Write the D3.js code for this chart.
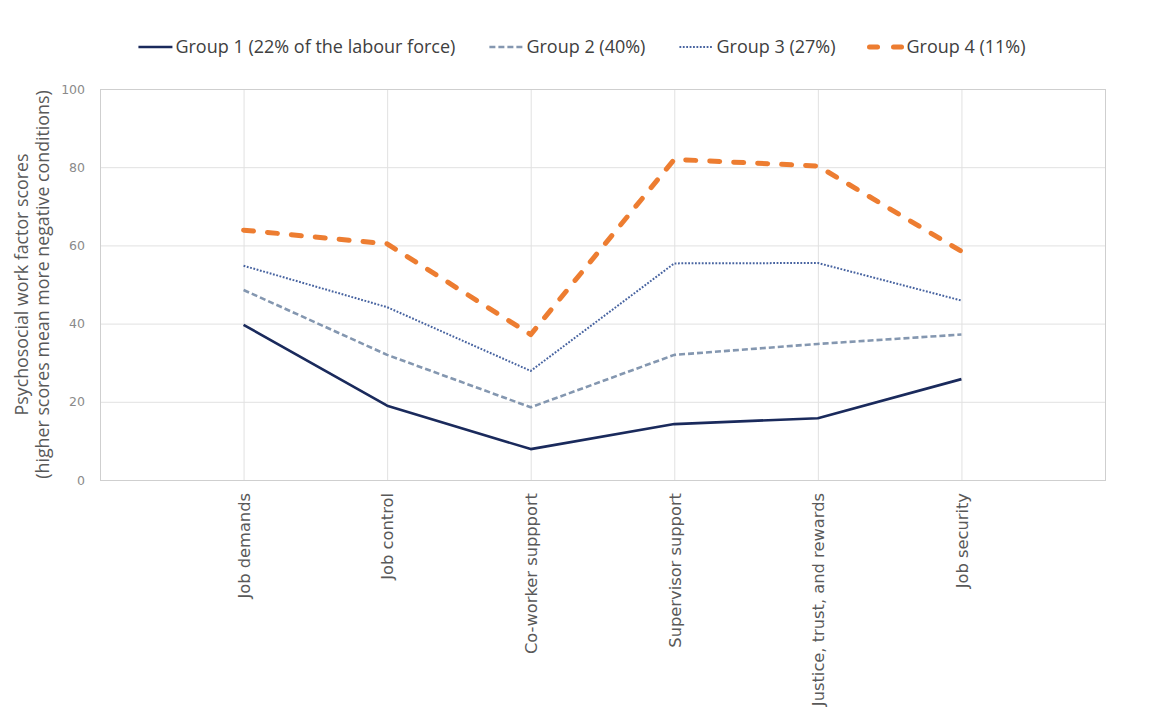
<!DOCTYPE html>
<html>
<head>
<meta charset="utf-8">
<script src="https://cdn.jsdelivr.net/npm/d3@7"></script>
<style>
  body { margin: 0; background: #fff; }
  svg { display: block; }
</style>
</head>
<body>
<div id="chart"></div>
<script>
// data
const categories = ["Job demands", "Job control", "Co-worker suppport", "Supervisor support", "Justice, trust, and rewards", "Job security"];
const seriesNames = ["Group 1 (22% of the labour force)", "Group 2 (40%)", "Group 3 (27%)", "Group 4 (11%)"];
const group1 = [39.7, 19.0, 7.9, 14.3, 15.8, 25.8];
const group2 = [48.6, 32.0, 18.6, 32.0, 34.8, 37.2];
const group3 = [54.8, 44.2, 27.9, 55.4, 55.5, 45.9];
const group4 = [63.9, 60.4, 37.2, 82.0, 80.3, 58.5];
const yTicks = [0, 20, 40, 60, 80, 100];

const W = 1170, H = 719;
const margin = {top: 89, right: 65, bottom: 239, left: 100};
const width = W - margin.left - margin.right,
      height = H - margin.top - margin.bottom;

const styles = [
  {color: "#1a2a5c", width: 2.6, dash: null, cap: "butt"},
  {color: "#8497b0", width: 2.6, dash: "6 3", cap: "butt"},
  {color: "#4763a0", width: 2, dash: "1.8 1.6", cap: "butt"},
  {color: "#ed7d31", width: 5, dash: "10 14", cap: "round"}
];

const svg = d3.select("#chart").append("svg")
    .attr("width", W)
    .attr("height", H);

const g = svg.append("g").attr("transform", `translate(${margin.left},${margin.top})`);

const x = d3.scalePoint().domain(categories).range([0, width]).padding(1);
const y = d3.scaleLinear().domain([0, 100]).range([height, 0]);

// gridlines
g.append("g")
  .selectAll("line")
  .data(yTicks)
  .join("line")
    .attr("x1", 0).attr("x2", width)
    .attr("y1", d => y(d) + 0.5).attr("y2", d => y(d) + 0.5)
    .attr("stroke", "#e1e1e1");

g.append("g")
  .selectAll("line")
  .data(categories)
  .join("line")
    .attr("x1", d => x(d) + 0.5).attr("x2", d => x(d) + 0.5)
    .attr("y1", 0).attr("y2", height)
    .attr("stroke", "#e1e1e1");

// plot border
g.append("rect")
  .attr("x", 0.5).attr("y", 0.5)
  .attr("width", width).attr("height", height)
  .attr("fill", "none")
  .attr("stroke", "#cfcfcf");

// y axis labels
const yAxis = g.append("g")
  .call(d3.axisLeft(y).tickValues(yTicks).tickSize(0).tickPadding(15));
yAxis.select(".domain").remove();
yAxis.selectAll("text")
  .style("font-family", "'DejaVu Sans', sans-serif")
  .style("font-size", "12.5px")
  .style("fill", "#8a8a8a");

// x axis labels
const xAxis = g.append("g")
  .attr("transform", `translate(0,${height})`)
  .call(d3.axisBottom(x).tickSize(0));
xAxis.select(".domain").remove();
xAxis.selectAll("text")
  .attr("transform", "rotate(-90)")
  .attr("x", -13)
  .attr("y", 0)
  .attr("dy", "0.35em")
  .style("text-anchor", "end")
  .style("font-family", "'DejaVu Sans', sans-serif")
  .style("font-size", "16.3px")
  .style("fill", "#595959");

// y title
const yTitle = svg.append("text")
  .attr("transform", `translate(28,${margin.top + height / 2}) rotate(-90)`)
  .style("text-anchor", "middle")
  .style("font-family", "'Open Sans', sans-serif")
  .style("font-size", "17.8px")
  .style("fill", "#595959");
yTitle.append("tspan").attr("x", 0).attr("y", 0).text("Psychosocial work factor scores");
yTitle.append("tspan").attr("x", 0).attr("y", 21).text("(higher scores mean more negative conditions)");

// lines
const series = [group1, group2, group3, group4];
const line = d3.line()
  .x((d, i) => x(categories[i]))
  .y(d => y(d));

g.append("g")
  .selectAll("path")
  .data(series)
  .join("path")
    .attr("d", line)
    .attr("fill", "none")
    .attr("stroke", (d, i) => styles[i].color)
    .attr("stroke-width", (d, i) => styles[i].width)
    .attr("stroke-dasharray", (d, i) => styles[i].dash)
    .attr("stroke-linecap", (d, i) => styles[i].cap)
    .attr("stroke-linejoin", "round");

// legend
const legend = svg.append("g").attr("transform", "translate(0,47)");
const items = legend.selectAll("g")
  .data(seriesNames)
  .join("g");

items.append("line")
  .attr("x1", 0).attr("x2", 34)
  .attr("y1", 0).attr("y2", 0)
  .attr("stroke", (d, i) => styles[i].color)
  .attr("stroke-width", (d, i) => styles[i].width)
  .attr("stroke-dasharray", (d, i) => i == 3 ? "8 16" : styles[i].dash)
  .attr("stroke-linecap", (d, i) => styles[i].cap);

items.append("text")
  .attr("x", 37)
  .attr("dy", "0.35em")
  .style("font-family", "'Open Sans', sans-serif")
  .style("font-size", "18px")
  .style("fill", "#404040")
  .text(d => d);

let pos = 0;
const gap = 34;
const offsets = [];
items.each(function() {
  offsets.push(pos);
  pos += this.getBBox().width + gap;
});
const total = pos - gap;
const start = (W - total) / 2 - 3;
items.attr("transform", (d, i) => `translate(${start + offsets[i]},0)`);
</script>
</body>
</html>
